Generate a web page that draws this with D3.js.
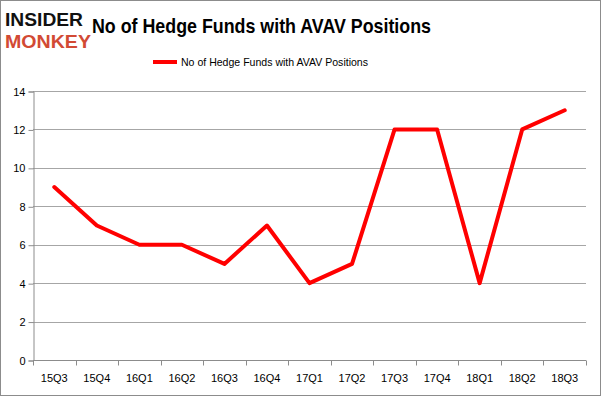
<!DOCTYPE html>
<html>
<head>
<meta charset="utf-8">
<script src="https://cdn.jsdelivr.net/npm/d3@7"></script>
<style>
  body { margin: 0; background: #fff; }
  text { font-family: "Liberation Sans", Arial, sans-serif; }
</style>
</head>
<body>
<div id="chart-area"></div>
<script>
const quarters = ["15Q3","15Q4","16Q1","16Q2","16Q3","16Q4","17Q1","17Q2","17Q3","17Q4","18Q1","18Q2","18Q3"]
const funds = [9, 7, 6, 6, 5, 7, 4, 5, 12, 12, 4, 12, 13]
const yTicks = [0, 2, 4, 6, 8, 10, 12, 14]
const seriesName = "No of Hedge Funds with AVAV Positions"

const W = 601, H = 396
const MARGIN = { LEFT: 33, RIGHT: 15, TOP: 91, BOTTOM: 36 }

const svg = d3.select("#chart-area").append("svg")
  .attr("width", W)
  .attr("height", H)

svg.append("rect")
  .attr("x", 0.5).attr("y", 0.5)
  .attr("width", W - 1).attr("height", H - 1)
  .attr("fill", "#fff")
  .attr("stroke", "#8c8c8c")

const x = d3.scaleBand()
  .domain(quarters)
  .range([MARGIN.LEFT, W - MARGIN.RIGHT])

const y = d3.scaleLinear()
  .domain([0, 14])
  .range([H - MARGIN.BOTTOM, MARGIN.TOP])

// gridlines
svg.append("g")
  .selectAll("line")
  .data(yTicks)
  .join("line")
  .attr("x1", MARGIN.LEFT).attr("x2", W - MARGIN.RIGHT)
  .attr("y1", d => Math.round(y(d)) + 0.5)
  .attr("y2", d => Math.round(y(d)) + 0.5)
  .attr("stroke", "#a6a6a6")

// y axis
const yAxis = svg.append("g")
  .attr("transform", `translate(${MARGIN.LEFT + 0.5}, 0.5)`)
  .call(d3.axisLeft(y).tickValues(yTicks).tickSize(5).tickPadding(3))
yAxis.select(".domain").attr("stroke", "#8c8c8c")
yAxis.selectAll(".tick line").attr("stroke", "#8c8c8c")
yAxis.selectAll("text").attr("font-size", "11px").attr("fill", "#000")
  .attr("font-family", "'DejaVu Sans', sans-serif")

// x axis with ticks at category boundaries
const xAxisG = svg.append("g")
  .attr("transform", `translate(0, ${Math.round(y(0)) + 0.5})`)
xAxisG.append("line")
  .attr("x1", MARGIN.LEFT).attr("x2", W - MARGIN.RIGHT)
  .attr("stroke", "#8c8c8c")
xAxisG.selectAll(".bt")
  .data(quarters.concat(["end"]))
  .join("line")
  .attr("class", "bt")
  .attr("x1", (d, i) => Math.round(MARGIN.LEFT + i * x.step()) + 0.5)
  .attr("x2", (d, i) => Math.round(MARGIN.LEFT + i * x.step()) + 0.5)
  .attr("y1", 0).attr("y2", 5)
  .attr("stroke", "#8c8c8c")
xAxisG.selectAll(".lbl")
  .data(quarters)
  .join("text")
  .attr("class", "lbl")
  .attr("x", d => x(d) + x.bandwidth() / 2)
  .attr("y", 21)
  .attr("text-anchor", "middle")
  .attr("font-size", "11px")
  .attr("font-family", "'DejaVu Sans', sans-serif")
  .text(d => d)

// line
const line = d3.line()
  .x((d, i) => x(quarters[i]) + x.bandwidth() / 2)
  .y(d => y(d))

svg.append("path")
  .datum(funds)
  .attr("d", line)
  .attr("fill", "none")
  .attr("stroke", "#ff0000")
  .attr("stroke-width", 4)
  .attr("stroke-linejoin", "round")
  .attr("stroke-linecap", "round")

// title
svg.append("text")
  .attr("x", 92).attr("y", 33)
  .attr("font-size", "21px")
  .attr("font-weight", "bold")
  .attr("textLength", 339)
  .attr("lengthAdjust", "spacingAndGlyphs")
  .text(seriesName)

// legend
svg.append("line")
  .attr("x1", 153).attr("x2", 177)
  .attr("y1", 62).attr("y2", 62)
  .attr("stroke", "#ff0000")
  .attr("stroke-width", 4)
svg.append("text")
  .attr("x", 181).attr("y", 66)
  .attr("font-size", "11px")
  .attr("textLength", 187)
  .attr("lengthAdjust", "spacingAndGlyphs")
  .text(seriesName)

// logo
svg.append("text")
  .attr("x", 5).attr("y", 26)
  .attr("font-size", "19px")
  .attr("font-weight", "900")
  .attr("font-family", "'DejaVu Sans', sans-serif")
  .attr("textLength", 78)
  .attr("lengthAdjust", "spacingAndGlyphs")
  .attr("fill", "#111")
  .text("INSIDER")
svg.append("text")
  .attr("x", 5).attr("y", 48)
  .attr("font-size", "19px")
  .attr("font-weight", "900")
  .attr("font-family", "'DejaVu Sans', sans-serif")
  .attr("textLength", 86)
  .attr("lengthAdjust", "spacingAndGlyphs")
  .attr("fill", "#d24a34")
  .text("MONKEY")
</script>
</body>
</html>
